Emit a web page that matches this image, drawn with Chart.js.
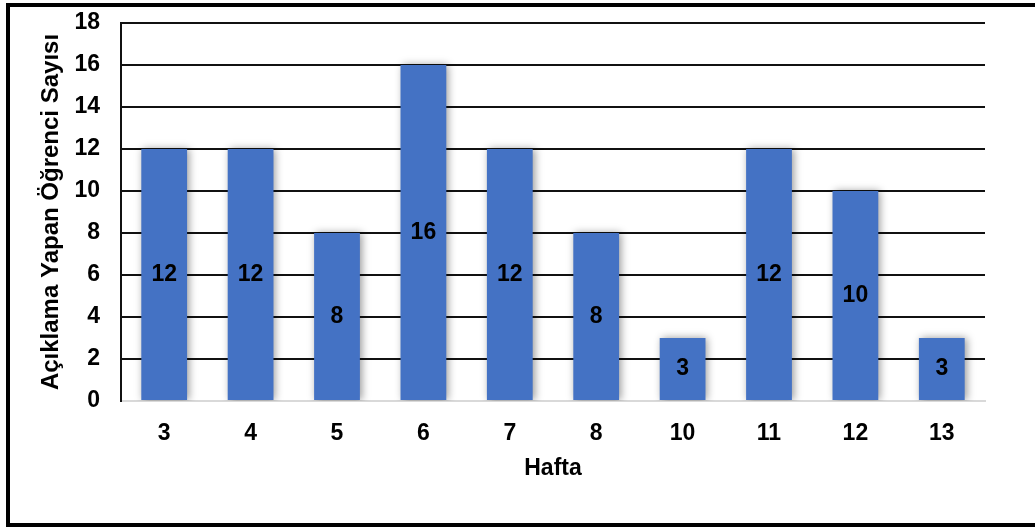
<!DOCTYPE html>
<html>
<head>
<meta charset="utf-8">
<script src="https://cdn.jsdelivr.net/npm/chart.js@4/dist/chart.umd.min.js"></script>
<style>
    html, body { margin: 0; padding: 0; background: #fff; }
    #wrap { position: relative; width: 1035px; height: 527px; }
    #frame {
        position: absolute; left: 6px; top: 3px; width: 1029px; height: 524px;
        box-sizing: border-box; border: 4px solid #000; border-right: none;
        pointer-events: none;
    }
</style>
</head>
<body>
<div id="wrap">
    <canvas id="haftaChart" width="1035" height="527"></canvas>
    <div id="frame"></div>
</div>
<script>
// Data
var weeks = ['3', '4', '5', '6', '7', '8', '10', '11', '12', '13'];
var studentCounts = [12, 12, 8, 16, 12, 8, 3, 12, 10, 3];
var yMax = 18;
var yStep = 2;

var fontFamily = 'Arial, "Liberation Sans", sans-serif';

// Soft shadow behind the bars
var barShadow = {
    id: 'barShadow',
    beforeDatasetsDraw: function (chart) {
        var ctx = chart.ctx;
        ctx.save();
        ctx.shadowColor = 'rgba(0, 0, 0, 0.4)';
        ctx.shadowBlur = 8;
        ctx.shadowOffsetX = 2;
        ctx.shadowOffsetY = 0;
    },
    afterDatasetsDraw: function (chart) {
        chart.ctx.restore();
    }
};

// Value labels in the middle of each bar
var barValues = {
    id: 'barValues',
    afterDatasetsDraw: function (chart) {
        var ctx = chart.ctx;
        ctx.save();
        ctx.font = 'bold 23px ' + fontFamily;
        ctx.fillStyle = '#000';
        ctx.textAlign = 'center';
        ctx.textBaseline = 'middle';
        chart.getDatasetMeta(0).data.forEach(function (bar, i) {
            ctx.fillText(String(studentCounts[i]), bar.x, (bar.y + bar.base) / 2);
        });
        ctx.restore();
    }
};

var ctx = document.getElementById('haftaChart').getContext('2d');
new Chart(ctx, {
    type: 'bar',
    data: {
        labels: weeks,
        datasets: [{
            data: studentCounts,
            backgroundColor: '#4472C4',
            borderWidth: 0,
            categoryPercentage: 1,
            barPercentage: 0.53
        }]
    },
    options: {
        responsive: false,
        animation: false,
        layout: { padding: { top: 23, right: 50, bottom: 0, left: 0 } },
        plugins: {
            legend: { display: false },
            tooltip: { enabled: false }
        },
        scales: {
            x: {
                grid: { display: false, drawTicks: false },
                border: { display: true, color: '#d9d9d9', width: 2 },
                ticks: {
                    color: '#000',
                    padding: 19,
                    font: { family: fontFamily, size: 23, weight: 'bold' }
                },
                title: {
                    display: true,
                    text: 'Hafta',
                    color: '#000',
                    padding: { top: 0, bottom: 45 },
                    font: { family: fontFamily, size: 23, weight: 'bold' }
                },
                afterFit: function (scale) {
                    scale.height = 126;
                    scale.paddingLeft = 0;
                    scale.paddingRight = 0;
                }
            },
            y: {
                min: 0,
                max: yMax,
                grid: {
                    drawTicks: false,
                    lineWidth: 2,
                    color: function (c) { return c.tick && c.tick.value === 0 ? '#d9d9d9' : '#111'; }
                },
                border: { display: true, color: '#111', width: 2 },
                ticks: {
                    stepSize: yStep,
                    color: '#000',
                    padding: 21,
                    font: { family: fontFamily, size: 23, weight: 'bold' }
                },
                title: {
                    display: true,
                    text: 'Açıklama Yapan Öğrenci Sayısı',
                    color: '#000',
                    padding: { top: 37, bottom: 0 },
                    font: { family: fontFamily, size: 24, weight: 'bold' }
                },
                afterFit: function (scale) {
                    scale.width = 121;
                    scale.paddingTop = 0;
                    scale.paddingBottom = 0;
                }
            }
        }
    },
    plugins: [barShadow, barValues]
});
</script>
</body>
</html>
